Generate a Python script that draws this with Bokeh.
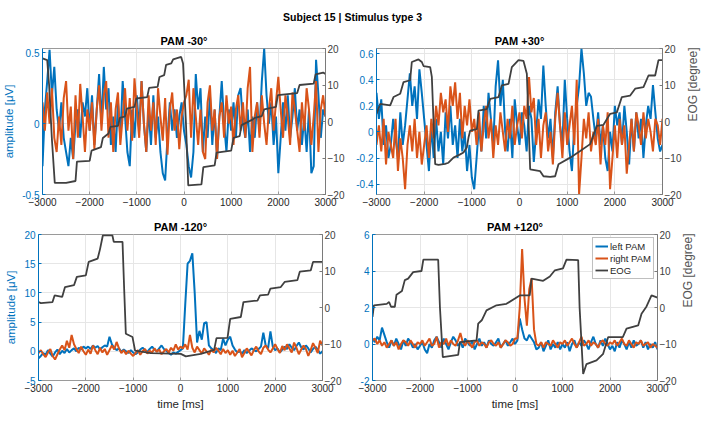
import numpy as np
from bokeh.plotting import figure
from bokeh.models import Range1d, LinearAxis, FixedTicker, Legend, LegendItem
from bokeh.layouts import column, row
from bokeh.embed import file_html
from bokeh.resources import INLINE
from bokeh.core.properties import value

FONT = "Liberation Sans"
BLUE = "#0072BD"
ORANGE = "#D95319"
EOGC = "#404040"

SUPTITLE = "Subject 15 | Stimulus type 3"
panel_titles = ["PAM -30°", "PAM +30°", "PAM -120°", "PAM +120°"]
series_names = ["left PAM", "right PAM", "EOG"]
x_ticks = [-3000, -2000, -1000, 0, 1000, 2000, 3000]
eog_ticks = [-20, -10, 0, 10, 20]

# ---------------- top-left: PAM -30 ----------------
tl_left = [-0.30, 0.10, 0.30, 0.52, 0.20, 0.40, 0.10, -0.05, 0.15, -0.10, -0.20,
           -0.30, -0.10, -0.25, 0.00, 0.10, -0.10, 0.15, 0.05, 0.25, -0.05,
           0.20, -0.15, 0.10, 0.35, 0.00, 0.40, 0.10, 0.25, -0.15, 0.05,
           -0.20, 0.15, -0.10, 0.30, 0.05, -0.20, -0.30, 0.10, -0.10, 0.20,
           -0.05, 0.30, 0.00, -0.20, 0.10, -0.15, 0.20, -0.10, 0.05, -0.20,
           -0.35, -0.40, -0.10, 0.15, -0.05, 0.10, -0.10, 0.05, 0.15, -0.05,
           -0.15, -0.30, -0.38, -0.20, 0.35, 0.10, 0.25, -0.20, 0.05, -0.10,
           0.20, -0.15, 0.10, -0.25, 0.05, 0.30, 0.00, -0.20, 0.10, -0.05,
           0.15, -0.10, 0.20, 0.25, 0.00, -0.10, 0.10, -0.20, 0.05, -0.10,
           0.15, -0.05, 0.30, 0.53, 0.20, 0.00, 0.15, -0.15, 0.05, -0.35,
           -0.10, 0.15, -0.05, 0.20, -0.10, 0.05, 0.25, -0.05, 0.10, -0.15,
           0.05, -0.20, 0.10, -0.35, -0.30, 0.45, 0.20, -0.10, 0.10, 0.05]
tl_right = [0.15, -0.05, 0.22, 0.00, 0.25, -0.10, -0.20, 0.05, -0.15, 0.18, 0.30,
            -0.05, 0.12, -0.25, 0.20, -0.10, 0.28, 0.05, -0.20, 0.10, -0.05,
            0.15, -0.18, 0.10, 0.27, -0.05, 0.20, 0.30, -0.10, 0.15, -0.20,
            0.10, 0.22, -0.15, 0.05, 0.25, -0.05, 0.18, -0.12, 0.32, 0.10,
            -0.10, 0.30, 0.00, -0.20, 0.20, -0.05, 0.15, -0.15, 0.25, 0.05,
            -0.12, 0.18, -0.22, 0.10, 0.22, -0.05, 0.10, -0.18, 0.05, 0.15,
            0.20, 0.31, -0.10, 0.25, 0.05, -0.15, 0.10, -0.20, -0.25, 0.15,
            0.27, -0.05, 0.10, -0.25, 0.05, 0.15, -0.10, 0.20, 0.00, 0.12,
            -0.15, 0.10, 0.20, -0.05, 0.15, -0.10, 0.25, 0.40, -0.20, 0.05,
            0.15, -0.10, 0.20, 0.00, -0.15, 0.10, 0.25, -0.05, 0.15, 0.33,
            0.10, -0.10, 0.20, 0.05, -0.15, 0.22, 0.10, -0.05, -0.20, 0.15,
            -0.05, 0.25, 0.10, -0.15, 0.05, 0.30, -0.20, 0.10, 0.20, 0.05]
tl_eog_t = [-3000, -2900, -2860, -2800, -2740, -2500, -2300, -2270, -2000, -1960,
            -1760, -1720, -1600, -1560, -1400, -1360, -1250, -1210, -1050, -1010,
            -780, -740, -560, -520, -420, -380, -270, -230, -60, -20,
            40, 90, 370, 410, 650, 690, 1000, 1050, 1180, 1220,
            1450, 1500, 1650, 1700, 1950, 1990, 2400, 2450, 2750, 2790,
            2950, 3000]
tl_eog = [17.3, 16.8, 10.0, -5.0, -16.8, -16.8, -16.3, -11.0, -10.8, -8.0,
          -7.0, -4.5, -3.3, -1.5, -1.2, 1.0, 1.4, 3.5, 4.0, 6.3,
          6.7, 9.2, 9.5, 12.2, 12.7, 15.5, 15.9, 17.0, 17.7, 15.9,
          0.0, -17.5, -17.2, -12.5, -12.0, -8.5, -8.0, -4.5, -4.0, -1.0,
          0.5, 1.0, 1.5, 3.3, 4.0, 7.2, 7.8, 10.0, 10.4, 12.9,
          13.4, 13.0]

# ---------------- top-right: PAM +30 ----------------
tr_left = [0.30, 0.10, 0.25, -0.10, 0.05, -0.20, -0.10, 0.10, -0.05, -0.20, 0.15,
           -0.10, 0.05, 0.25, 0.45, 0.20, 0.35, 0.10, 0.48, 0.30, 0.10,
           -0.10, -0.30, 0.05, -0.20, 0.10, -0.15, 0.00, -0.25, 0.15, -0.05,
           0.20, -0.10, 0.05, -0.20, 0.10, -0.15, 0.00, -0.30, -0.10, -0.35,
           -0.44, -0.20, 0.05, -0.15, 0.20, -0.05, 0.30, 0.10, -0.10, 0.35,
           0.55, 0.20, 0.40, 0.00, -0.15, 0.10, -0.20, 0.25, 0.05, -0.10,
           0.15, 0.05, -0.15, 0.20, 0.10, -0.23, 0.00, 0.25, 0.10, 0.51,
           0.20, -0.05, 0.10, -0.20, 0.15, 0.35, 0.05, -0.10, 0.40, 0.10,
           -0.15, -0.30, 0.05, 0.20, 0.35, 0.64, 0.45, 0.20, 0.30, 0.27,
           0.10, -0.05, 0.15, -0.10, 0.05, -0.20, -0.30, 0.00, -0.15, 0.20,
           0.05, 0.15, -0.10, 0.20, 0.00, -0.25, 0.10, -0.15, 0.15, -0.05,
           0.10, -0.20, 0.05, 0.20, 0.10, 0.36, 0.15, -0.05, -0.15, -0.10]
tr_right = [-0.10, 0.05, -0.15, 0.10, -0.25, 0.00, -0.10, -0.20, 0.10, -0.30, -0.05,
            -0.20, -0.44, -0.10, 0.05, -0.15, 0.10, -0.20, 0.00, -0.25, -0.10,
            0.05, -0.20, 0.10, -0.05, 0.20, 0.05, 0.30, 0.15, 0.25, 0.00,
            0.35, 0.20, 0.38, 0.10, 0.30, -0.05, 0.20, 0.05, 0.25, 0.00,
            0.10, -0.10, 0.15, -0.15, 0.05, 0.20, -0.05, 0.10, -0.20, 0.05,
            -0.10, 0.15, 0.00, -0.15, 0.10, -0.05, 0.20, -0.10, 0.05, 0.15,
            -0.05, 0.20, 0.10, 0.42, 0.15, 0.26, -0.10, 0.10, -0.20, 0.05,
            0.15, -0.15, 0.00, -0.25, 0.10, 0.30, 0.05, -0.20, 0.15, -0.10,
            0.05, 0.20, -0.10, 0.40, -0.48, -0.20, 0.10, -0.05, 0.15, -0.15,
            0.00, -0.10, 0.10, -0.25, 0.05, -0.10, 0.15, -0.44, -0.20, 0.05,
            -0.20, 0.10, -0.10, 0.05, -0.32, -0.10, 0.10, -0.15, 0.15, 0.05,
            -0.10, 0.15, -0.05, 0.10, 0.00, -0.15, 0.10, 0.05, -0.10, 0.10]
tr_eog_t = [-3000, -2923, -2713, -2643, -2503, -2433, -2294, -2259, -2119, -2049,
            -2014, -1874, -1839, -1769, -1699, -1560, -1490, -1385, -1245, -1175,
            -1105, -1070, -1035, -895, -860, -685, -615, -440, -370, -230,
            -161, -21, 84, 154, 224, 433, 503, 643, 748, 818,
            1063, 1273, 1482, 1622, 1762, 1902, 2042, 2147, 2322, 2426,
            2601, 2706, 2846, 2916, 3000]
tr_eog = [2.1, 4.8, 4.4, 6.7, 7.6, 10.8, 11.3, 16.3, 17.0, 16.3,
          15.2, 14.9, 12.2, -11.7, -11.9, -11.6, -11.3, -9.9, -9.0, -8.5,
          -7.1, -4.4, -2.5, -2.1, 3.0, 3.4, 6.2, 6.7, 9.9, 10.3,
          14.9, 16.8, 16.6, 13.1, -13.1, -13.6, -15.0, -15.2, -15.0, -11.7,
          -9.9, -8.1, -6.2, -1.2, -0.9, 2.1, 2.5, 6.7, 7.1, 9.0,
          9.4, 12.6, 12.6, 16.8, 16.8]

# ---------------- bottom-left: PAM -120 ----------------
bl_left = [-1.2, -0.8, -0.3, -0.6, 0.2, -0.4, -0.9, -0.2, 0.3, -0.5, 0.1,
           -0.3, 0.4, -0.2, 0.2, 0.5, 0.0, 0.6, 0.3, 0.8, 0.5,
           0.8, 0.4, 1.0, 0.6, 0.9, 0.3, 0.7, 1.0, 0.8, 2.5,
           1.2, 0.6, 0.2, 0.5, -0.1, 0.3, 0.0, -0.3, 0.2, -0.2,
           -0.5, -0.2, 0.3, 0.6, 0.2, -0.1, 0.4, 0.8, 0.3, 0.0,
           0.5, 1.0, 0.4, 0.1, -0.3, -0.6, -0.2, -0.4, -0.1, 0.2,
           0.5, 8.0, 15.0, 15.5, 16.8, 10.0, 1.5, 3.5, 2.0, 4.8,
           5.0, 1.0, 0.5, 0.2, -0.3, 0.5, 0.2, 2.2, 1.0, 2.0,
           2.5, 1.0, 0.3, -0.2, 0.0, -0.4, 0.2, -0.3, 0.1, 0.5,
           0.2, 0.0, 0.4, 0.8, 3.2, 1.0, 0.5, 3.4, 0.8, 0.2,
           0.5, -0.2, 0.3, 0.8, 0.4, 1.2, 0.6, 0.2, 0.9, 1.5,
           0.7, 0.3, 1.0, 0.5, -0.2, 0.4, 0.8, 0.3, -0.4, 0.0]
bl_right = [-0.3, 0.2, -0.5, -1.0, -0.2, 0.4, -0.8, -1.4, -0.5, 0.3, 1.0,
            0.2, 1.8, 0.6, 2.8, 1.2, 0.4, -0.3, 0.8, 0.0, -0.6,
            0.3, -0.4, 1.0, 0.2, -0.5, 0.6, -0.2, 0.4, -0.6, 0.2,
            1.0, 0.3, 1.6, 0.5, -0.3, 0.2, -0.5, 0.1, -0.4, -0.8,
            -0.3, 0.2, -0.6, 0.0, 0.4, -0.4, 0.1, -0.2, 0.5, -0.1,
            0.3, -0.5, 0.0, 0.4, -0.2, 0.6, 0.1, 1.2, 0.3, 0.8,
            0.5, 1.2, 0.3, 2.8, 0.6, -0.2, 0.8, 0.2, -0.4, 0.5,
            0.0, -0.6, 0.3, -0.2, 0.6, 0.1, -0.5, 0.4, -0.3, 0.2,
            -0.6, 0.1, -0.8, -0.2, 0.4, -1.0, -0.3, 0.5, -0.1, -0.7,
            0.2, 0.8, 0.0, -0.5, 0.6, 1.0, 0.3, -0.2, 0.5, 1.2,
            0.4, -0.3, 0.9, 0.2, 1.2, 0.5, -0.2, 1.5, 0.6, -0.5,
            0.3, 1.0, 0.4, -0.8, 0.2, 1.4, 0.6, -0.3, 1.8, 1.0]
bl_eog_t = [-3000, -2950, -2704, -2660, -2500, -2440, -2250, -2190, -2000, -1940,
            -1750, -1700, -1640, -1440, -1410, -1225, -1190, -1155, -1014, -960,
            -627, 7, 112, 429, 711, 760, 993, 1050, 1274, 1330,
            1626, 1680, 1850, 1900, 2119, 2200, 2470, 2520, 2753, 2800,
            3000]
bl_eog = [1.5, 1.2, 1.5, 3.3, 2.9, 5.6, 6.1, 8.4, 8.8, 12.5,
          13.4, 16.0, 19.8, 19.8, 18.0, 18.0, 5.0, -7.2, -8.1, -11.8,
          -12.5, -12.7, -13.4, -12.7, -11.6, -8.4, -8.3, -3.1, -2.6, 1.5,
          1.9, 3.3, 3.5, 5.2, 5.6, 7.0, 7.5, 9.8, 10.2, 12.5,
          12.5]

# ---------------- bottom-right: PAM +120 ----------------
br_left = [0.3, 0.1, 0.4, 0.2, 0.9, 0.5, 0.1, -0.2, 0.2, -0.1, 0.3,
           0.0, -0.3, 0.2, -0.1, 0.3, 0.1, -0.2, 0.0, -0.3, -0.1,
           0.1, -0.3, -0.5, 0.0, -0.2, 0.2, 0.4, 0.1, -0.2, 0.3,
           0.0, -0.3, 0.1, 0.4, 0.2, -0.1, 0.1, -0.2, 0.3, 0.1,
           -0.1, 0.2, -0.3, 0.0, 0.3, -0.1, 0.1, -0.2, 0.2, 0.0,
           -0.1, 0.1, 0.3, -0.2, 0.0, 0.2, -0.1, 0.1, 0.3, 0.0,
           0.2, 1.4, 0.8, 0.3, 0.2, 0.5, 0.3, 0.1, -0.3, -0.2,
           0.1, -0.4, -0.1, 0.2, -0.3, 0.0, -0.2, 0.1, -0.3, 0.0,
           -0.2, 0.1, -0.4, 0.0, 0.2, -0.2, 0.1, -0.1, 0.2, 0.0,
           -0.3, 0.1, 0.4, 0.0, -0.2, 0.2, -0.1, 0.3, 0.0, -0.3,
           -0.1, -0.4, 0.1, -0.2, 0.2, 0.0, -0.3, 0.1, -0.2, 0.2,
           -0.1, 0.0, 0.2, -0.2, 0.1, -0.3, 0.0, -0.2, 0.1, -0.3]
br_right = [0.2, 0.3, 0.0, 0.2, -0.1, 0.1, -0.2, 0.0, 0.2, -0.1, 0.1,
            -0.3, 0.0, 0.2, 0.1, -0.1, 0.2, 0.0, -0.2, 0.1, 0.0,
            0.2, -0.1, 0.1, 0.3, -0.1, 0.0, 0.4, -0.2, 0.1, 0.0,
            0.3, -0.1, 0.2, 0.0, -0.1, 0.2, 0.6, 0.1, -0.1, 0.2,
            0.0, -0.2, 0.1, 0.2, -0.1, 0.1, 0.0, -0.2, 0.1, 0.2,
            0.0, -0.1, 0.1, -0.2, 0.0, 0.2, 0.1, -0.1, 0.0, 0.3,
            0.3, 2.0, 5.2, 2.5, 1.0, 3.0, 3.6, 0.8, 0.0, -0.1,
            0.1, -0.2, 0.1, 0.0, -0.1, 0.2, 0.0, -0.2, 0.1, 0.0,
            0.2, -0.1, 0.1, 0.3, 0.0, -0.2, 0.1, 0.4, -0.1, 0.0,
            0.2, -0.1, 0.1, 0.0, -0.2, 0.1, 0.2, 0.0, -0.1, 0.1,
            0.0, 0.2, -0.1, 0.1, 0.3, 0.0, -0.1, 0.2, 0.0, -0.2,
            0.1, 0.0, 0.2, -0.1, 0.0, 0.1, -0.2, 0.0, -0.1, -0.2]
br_eog_t = [-3000, -2970, -2700, -2650, -2610, -2530, -2495, -2380, -2320, -2250,
            -2144, -1968, -1930, -1617, -1580, -1520, -1196, -1160, -810, -775,
            -700, -600, -390, -180, 100, 310, 348, 593, 733, 840,
            1010, 1084, 1330, 1360, 1435, 1505, 1716, 1856, 1962, 2270,
            2348, 2593, 2664, 2769, 2874, 3000]
br_eog = [-2.6, 0.6, 1.0, 1.5, 0.2, 0.2, 3.5, 4.5, 7.5, 7.9,
          9.7, 10.0, 13.1, 13.1, 0.0, -13.6, -13.0, -9.5, -9.0, -4.4,
          -3.5, -0.8, 0.6, 1.0, 3.3, 3.3, 7.9, 7.3, 8.5, 10.2,
          10.7, 13.1, 13.0, 0.0, -18.2, -15.5, -14.5, -12.7, -8.1, -8.1,
          -5.8, -4.9, -1.7, 0.3, 3.3, 2.7]

tl_yticks = [-0.5, 0, 0.5]
tr_yticks = [-0.4, -0.2, 0, 0.2, 0.4, 0.6]
bl_yticks = [-5, 0, 5, 10, 15, 20]
br_yticks = [-2, 0, 2, 4, 6]


def fmt(ticks):
    return {t: f"{t:g}" for t in ticks}


def style_axis(ax, color, line_color):
    ax.major_label_text_font = FONT
    ax.major_label_text_font_size = "10px"
    ax.major_label_text_color = color
    ax.axis_line_color = line_color
    ax.major_tick_line_color = line_color
    ax.major_tick_in = 3
    ax.major_tick_out = 0
    ax.minor_tick_line_color = None
    ax.major_label_standoff = 3
    ax.axis_label_text_font = FONT
    ax.axis_label_text_font_size = "11.5px"
    ax.axis_label_text_font_style = "normal"
    ax.axis_label_standoff = 4


def panel(title, left_vals, right_vals, eog_t, eog_v, yr, yticks, w, h, borders,
          ylabel=False, eoglabel=False, xlabel=False, legend=False):
    l, r, top, b = borders
    p = figure(width=w, height=h, x_range=Range1d(-3000, 3000), y_range=Range1d(*yr),
               output_backend="svg", toolbar_location=None,
               min_border_left=l, min_border_right=r, min_border_top=top, min_border_bottom=b)
    p.title.text = title
    p.title.align = "center"
    p.title.text_font = FONT
    p.title.text_font_size = "11px"
    p.title.text_font_style = "bold"
    p.title.text_color = "#000000"
    p.title.standoff = 3
    p.extra_y_ranges = {"eog": Range1d(-20, 20)}
    p.outline_line_color = "#9a9a9a"
    p.background_fill_color = "white"
    p.border_fill_color = "white"

    p.xaxis.ticker = FixedTicker(ticks=x_ticks)
    p.yaxis.ticker = FixedTicker(ticks=yticks)
    p.yaxis.major_label_overrides = fmt(yticks)
    style_axis(p.xaxis[0], "#262626", "#9a9a9a")
    style_axis(p.yaxis[0], BLUE, BLUE)
    if ylabel:
        p.yaxis.axis_label = "amplitude [μV]"
        p.yaxis.axis_label_text_color = BLUE
    if xlabel:
        p.xaxis.axis_label = "time [ms]"
        p.xaxis.axis_label_text_color = "#262626"
        p.xaxis.axis_label_standoff = 3

    rax = LinearAxis(y_range_name="eog", ticker=FixedTicker(ticks=eog_ticks))
    style_axis(rax, EOGC, "#7a7a7a")
    rax.major_label_standoff = 2
    if eoglabel:
        rax.axis_label = "EOG [degree]"
        rax.axis_label_text_color = "#555555"
        rax.axis_label_text_font_size = "12px"
        rax.axis_label_orientation = float(np.pi / 2)
        rax.axis_label_standoff = 9
    p.add_layout(rax, "right")

    p.xgrid.ticker = FixedTicker(ticks=x_ticks)
    p.ygrid.ticker = FixedTicker(ticks=yticks)
    p.grid.grid_line_color = "#e6e6e6"
    p.grid.grid_line_width = 1

    t1 = np.linspace(-3000, 3000, len(left_vals))
    t2 = np.linspace(-3000, 3000, len(right_vals))
    r1 = p.line(t1, left_vals, line_color=BLUE, line_width=2)
    r2 = p.line(t2, right_vals, line_color=ORANGE, line_width=2)
    r3 = p.line(eog_t, eog_v, line_color=EOGC, line_width=1.8, y_range_name="eog")

    if legend:
        lg = Legend(items=[LegendItem(label=series_names[0], renderers=[r1]),
                           LegendItem(label=series_names[1], renderers=[r2]),
                           LegendItem(label=series_names[2], renderers=[r3])],
                    location="top_right")
        lg.label_text_font = FONT
        lg.label_text_font_size = "9.5px"
        lg.label_text_color = "#262626"
        lg.glyph_width = 13
        lg.glyph_height = 12
        lg.label_height = 12
        lg.label_standoff = 2
        lg.spacing = 0
        lg.padding = 2
        lg.margin = 3
        lg.border_line_color = "#7f7f7f"
        lg.border_line_width = 1
        lg.background_fill_alpha = 1
        p.add_layout(lg)
    return p


# title strip
ttl = figure(width=718, height=30, x_range=Range1d(0, 1), y_range=Range1d(0, 1),
             output_backend="svg", toolbar_location=None, x_axis_type=None, y_axis_type=None,
             min_border_left=0, min_border_right=0, min_border_top=0, min_border_bottom=0)
ttl.outline_line_color = None
ttl.grid.visible = False
ttl.text(x=[0.4903], y=[0.45], text=[SUPTITLE], text_align="center", text_baseline="middle",
         text_font=value(FONT), text_font_size="10.5px", text_font_style="bold", text_color="#000000")

tl = panel(panel_titles[0], tl_left, tl_right, tl_eog_t, tl_eog, (-0.5, 0.53), tl_yticks,
           350, 182, (40, 25, 18, 18), ylabel=True)
tr = panel(panel_titles[1], tr_left, tr_right, tr_eog_t, tr_eog, (-0.48, 0.64), tr_yticks,
           368, 182, (26, 56, 18, 18), eoglabel=True)
bl = panel(panel_titles[2], bl_left, bl_right, bl_eog_t, bl_eog, (-5, 20), bl_yticks,
           350, 201, (38, 28, 22, 33), ylabel=True, xlabel=True)
br = panel(panel_titles[3], br_left, br_right, br_eog_t, br_eog, (-2, 6), br_yticks,
           368, 201, (22, 61, 22, 33), eoglabel=True, xlabel=True, legend=True)

layout = column(ttl, row(tl, tr), row(bl, br))
open("out.html", "w").write(file_html(layout, INLINE))
